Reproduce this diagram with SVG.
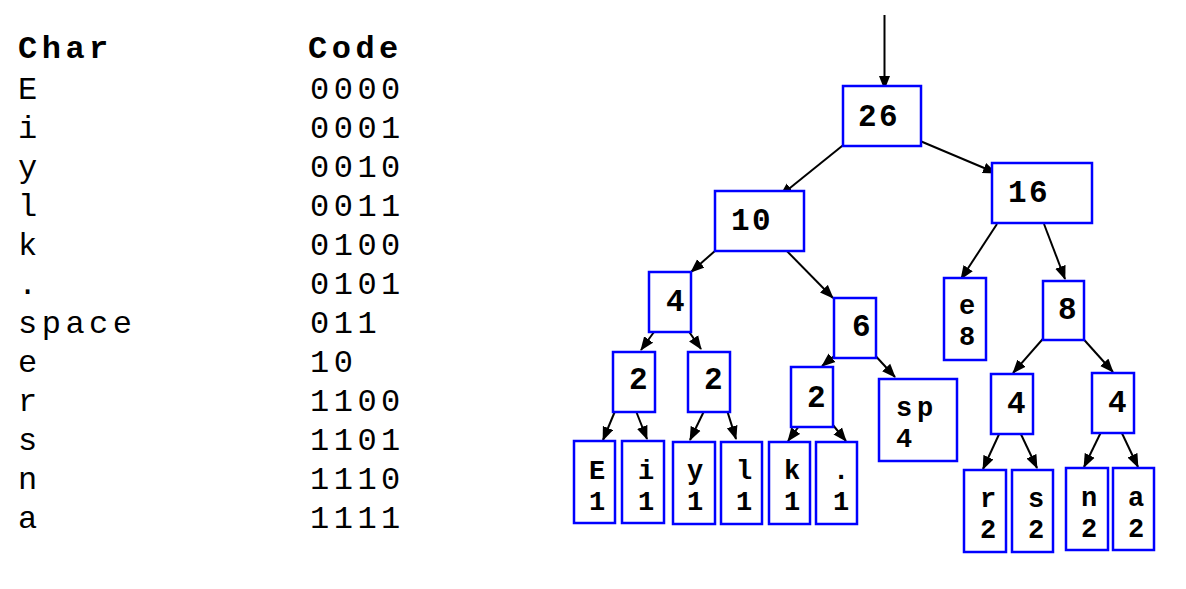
<svg xmlns="http://www.w3.org/2000/svg" width="1186" height="589" viewBox="0 0 1186 589">
<style>
.tbl{font-family:"Liberation Mono","Courier New",monospace;font-size:32px;letter-spacing:4.5px;fill:#000}
.hd{font-weight:bold}
.box{fill:#fff;stroke:#0000ff;stroke-width:2.5}
.lbl{font-family:"Liberation Mono","Courier New",monospace;font-size:31px;letter-spacing:2.4px;font-weight:bold;fill:#000}
.lf{font-size:27px;letter-spacing:4.8px}
.edge{stroke:#000;stroke-width:2;fill:none;marker-end:url(#ah)}
</style>
<defs>
<marker id="ah" markerUnits="userSpaceOnUse" markerWidth="14" markerHeight="12" refX="13" refY="5.5" orient="auto" viewBox="0 0 14 11">
<path d="M0,0 L14,5.5 L0,11 z" fill="#000"/>
</marker>
</defs>
<rect width="1186" height="589" fill="#fff"/>
<g id="table">
<text class="tbl hd" x="18" y="58">Char</text>
<text class="tbl hd" x="308" y="58">Code</text>
<text class="tbl" x="18" y="99">E</text><text class="tbl" x="310" y="99">0000</text>
<text class="tbl" x="18" y="138">i</text><text class="tbl" x="310" y="138">0001</text>
<text class="tbl" x="18" y="177">y</text><text class="tbl" x="310" y="177">0010</text>
<text class="tbl" x="18" y="216">l</text><text class="tbl" x="310" y="216">0011</text>
<text class="tbl" x="18" y="255">k</text><text class="tbl" x="310" y="255">0100</text>
<text class="tbl" x="18" y="294">.</text><text class="tbl" x="310" y="294">0101</text>
<text class="tbl" x="18" y="333">space</text><text class="tbl" x="310" y="333">011</text>
<text class="tbl" x="18" y="372">e</text><text class="tbl" x="310" y="372">10</text>
<text class="tbl" x="18" y="411">r</text><text class="tbl" x="310" y="411">1100</text>
<text class="tbl" x="18" y="450">s</text><text class="tbl" x="310" y="450">1101</text>
<text class="tbl" x="18" y="489">n</text><text class="tbl" x="310" y="489">1110</text>
<text class="tbl" x="18" y="528">a</text><text class="tbl" x="310" y="528">1111</text>
</g>
<g id="connectors">
<line class="edge" x1="884.5" y1="15" x2="884.5" y2="89"/>
<line class="edge" x1="852" y1="138" x2="780" y2="196"/>
<line class="edge" x1="913" y1="138" x2="996" y2="173"/>
<line class="edge" x1="724" y1="243" x2="691" y2="272"/>
<line class="edge" x1="780" y1="244" x2="833" y2="298"/>
<line class="edge" x1="997" y1="224" x2="961" y2="279"/>
<line class="edge" x1="1044" y1="224" x2="1065" y2="279"/>
<line class="edge" x1="659" y1="325" x2="641" y2="350"/>
<line class="edge" x1="683" y1="323" x2="701" y2="349"/>
<line class="edge" x1="618" y1="404" x2="603" y2="440"/>
<line class="edge" x1="634" y1="406" x2="647" y2="439"/>
<line class="edge" x1="707" y1="405" x2="690" y2="440"/>
<line class="edge" x1="726" y1="407" x2="736" y2="439"/>
<line class="edge" x1="844" y1="348" x2="822" y2="366"/>
<line class="edge" x1="871" y1="351" x2="895" y2="377"/>
<line class="edge" x1="805" y1="418" x2="788" y2="441"/>
<line class="edge" x1="828" y1="419" x2="846" y2="441"/>
<line class="edge" x1="1048" y1="333" x2="1013" y2="373"/>
<line class="edge" x1="1078" y1="333" x2="1113" y2="372"/>
<line class="edge" x1="1001" y1="430" x2="983" y2="469"/>
<line class="edge" x1="1018" y1="428" x2="1037" y2="468"/>
<line class="edge" x1="1103" y1="428" x2="1084" y2="467"/>
<line class="edge" x1="1119" y1="427" x2="1138" y2="467"/>
</g>
<g id="n26"><rect class="box" x="843" y="86" width="78" height="60"/><text class="lbl" x="858" y="126">26</text></g>
<g id="n16"><rect class="box" x="992" y="163" width="100" height="60"/><text class="lbl" x="1008" y="202">16</text></g>
<g id="n10"><rect class="box" x="715" y="191" width="89" height="60"/><text class="lbl" x="731" y="230">10</text></g>
<g id="n4a"><rect class="box" x="649" y="272" width="42" height="60"/><text class="lbl" x="666" y="311">4</text></g>
<g id="n6"><rect class="box" x="834" y="298" width="42" height="60"/><text class="lbl" x="852" y="336">6</text></g>
<g id="n2a"><rect class="box" x="613" y="352" width="42" height="60"/><text class="lbl" x="629" y="389">2</text></g>
<g id="n2b"><rect class="box" x="688" y="352" width="42" height="60"/><text class="lbl" x="704" y="389">2</text></g>
<g id="n2c"><rect class="box" x="791" y="367" width="42" height="60"/><text class="lbl" x="807" y="407">2</text></g>
<g id="nE"><rect class="box" x="574" y="441" width="41" height="82"/><text class="lbl lf" x="589" y="479">E<tspan x="589" y="510">1</tspan></text></g>
<g id="ni"><rect class="box" x="622" y="441" width="42" height="82"/><text class="lbl lf" x="638" y="479">i<tspan x="638" y="510">1</tspan></text></g>
<g id="ny"><rect class="box" x="673" y="442" width="42" height="82"/><text class="lbl lf" x="687" y="479">y<tspan x="687" y="510">1</tspan></text></g>
<g id="nl"><rect class="box" x="721" y="442" width="41" height="82"/><text class="lbl lf" x="736" y="479">l<tspan x="736" y="510">1</tspan></text></g>
<g id="nk"><rect class="box" x="769" y="442" width="41" height="82"/><text class="lbl lf" x="784" y="479">k<tspan x="784" y="510">1</tspan></text></g>
<g id="ndot"><rect class="box" x="816" y="442" width="41" height="82"/><text class="lbl lf" x="833" y="479">.<tspan x="833" y="510">1</tspan></text></g>
<g id="nsp"><rect class="box" x="879" y="379" width="78" height="82"/><text class="lbl lf" x="896" y="416">sp<tspan x="896" y="447">4</tspan></text></g>
<g id="ne"><rect class="box" x="944" y="278" width="42" height="82"/><text class="lbl lf" x="959" y="314">e<tspan x="959" y="345">8</tspan></text></g>
<g id="n8"><rect class="box" x="1043" y="281" width="41" height="59"/><text class="lbl" x="1058" y="319">8</text></g>
<g id="n4c"><rect class="box" x="991" y="374" width="42" height="60"/><text class="lbl" x="1007" y="413">4</text></g>
<g id="n4d"><rect class="box" x="1092" y="373" width="42" height="60"/><text class="lbl" x="1108" y="412">4</text></g>
<g id="nr"><rect class="box" x="964" y="470" width="42" height="82"/><text class="lbl lf" x="980" y="507">r<tspan x="980" y="538">2</tspan></text></g>
<g id="ns"><rect class="box" x="1012" y="470" width="41" height="82"/><text class="lbl lf" x="1028" y="507">s<tspan x="1028" y="538">2</tspan></text></g>
<g id="nn"><rect class="box" x="1066" y="468" width="42" height="82"/><text class="lbl lf" x="1081" y="506">n<tspan x="1081" y="537">2</tspan></text></g>
<g id="na"><rect class="box" x="1113" y="468" width="41" height="82"/><text class="lbl lf" x="1128" y="506">a<tspan x="1128" y="537">2</tspan></text></g>
</svg>
